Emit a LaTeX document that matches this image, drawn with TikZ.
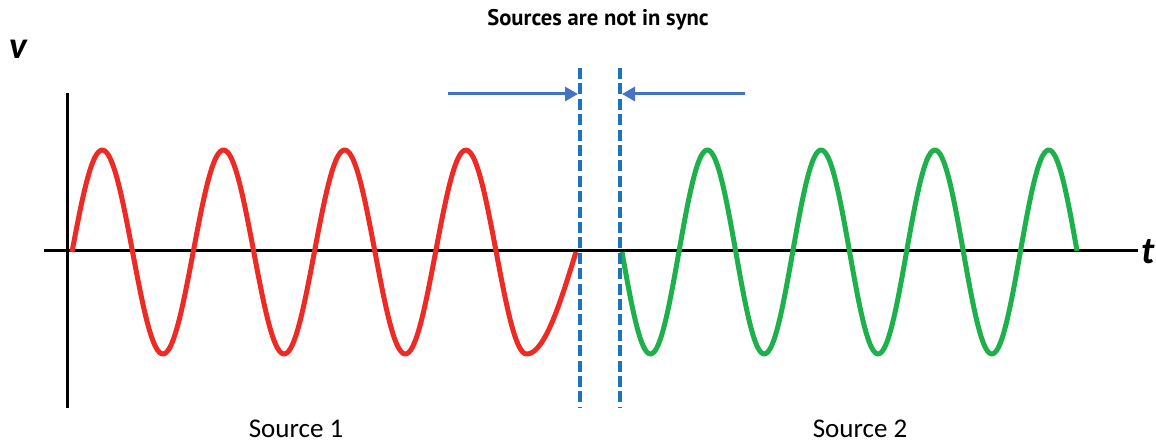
\documentclass[tikz,border=0pt]{standalone}
\usepackage{fontspec}
\usepackage{tikz}
\usetikzlibrary{arrows.meta,positioning}
\setmainfont{Carlito}
\newfontfamily\titlefont{PT Sans}
\definecolor{waveone}{HTML}{EE2A24}
\definecolor{wavetwo}{HTML}{1DB04B}
\definecolor{syncline}{HTML}{1B75BC}
\definecolor{gaparrow}{HTML}{4472C4}
\tikzset{
  axisline/.style={line width=1.5pt,draw=black},
  wave/.style    ={line width=2.5pt,line join=round},
  marker/.style  ={draw=syncline,line width=2.3pt,dash pattern=on 5.5pt off 2.2pt},
  gap/.style     ={-{Triangle[length=6.5pt,width=7pt]},line width=1.5pt,draw=gaparrow},
  varname/.style ={font=\bfseries\itshape\fontsize{19}{19}\selectfont,inner sep=0pt},
  srclabel/.style={font=\fontsize{13.5}{15}\selectfont,inner sep=0pt,anchor=base}
}

\begin{document}
\begin{tikzpicture}[x=0.5pt,y=-0.5pt]
    \useasboundingbox (0,0) rectangle (1156,443);
    % axes
    \coordinate (vtop) at (67,93);   \coordinate (vbot) at (67,408);
    \coordinate (tleft) at (44,251); \coordinate (tright) at (1138,251);
    \draw[axisline] (vtop) -- (vbot);
    \draw[axisline] (tleft) -- (tright);
    \node[varname] (v) at (18,49) {v};
    \node[varname,anchor=west] (t) at (1141,252) {t};
    % the two sources (degrees per px: 360/121.2 and 360/113.8)
    \draw[wave,waveone] plot[domain=72:526.5,samples=240,smooth] (\x,{252-102*sin(2.9703*(\x-72))})
        -- plot[domain=526.5:576,samples=30,smooth] (\x,{252+102*cos(1.8182*(\x-526.5))});
    \draw[wave,wavetwo] plot[domain=622:1077,samples=240,smooth] (\x,{252+102*sin(3.1634*(\x-622))});
    % sync markers
    \coordinate (m1top) at (580,68); \coordinate (m1bot) at (580,408);
    \coordinate (m2top) at (620,68); \coordinate (m2bot) at (620,408);
    \draw[marker] (m1top) -- (m1bot);
    \draw[marker] (m2top) -- (m2bot);
    \coordinate (g1from) at (448,94); \coordinate (g1to) at (578,94);
    \coordinate (g2from) at (745,94); \coordinate (g2to) at (622,94);
    \draw[gap] (g1from) -- (g1to);
    \draw[gap] (g2from) -- (g2to);
    \node[font=\titlefont\bfseries\fontsize{11.3}{13}\selectfont,inner sep=0pt] (title) at (598,20) {Sources are not in sync};
    \node[srclabel] (src1) at (296,437) {Source 1};
    \node[srclabel] (src2) at (860,437) {Source 2};
\end{tikzpicture}
\end{document}
